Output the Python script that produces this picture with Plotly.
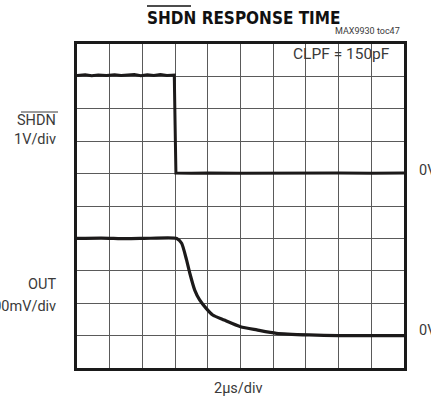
import plotly.graph_objects as go

# SHDN input step (time in µs, level in V)
shdn_t = [0.0, 0.5, 0.9, 1.3, 1.8, 2.3, 2.7, 3.1, 3.5, 3.9, 4.3, 4.7, 5.1, 5.5, 5.95, 6.0,
          6.05, 7.0, 8.0, 10.0, 12.0, 14.0, 16.0, 18.0, 20.0]
shdn_v = [3.03, 3.05, 3.02, 3.04, 3.03, 3.05, 3.03, 3.04, 3.06, 3.02, 3.05, 3.03, 3.06, 3.03, 3.04, 1.5,
          0.02, 0.01, 0.02, 0.01, 0.02, 0.01, 0.02, 0.01, 0.02]

# OUT response (time in µs, level in mV)
out_t = [0.0, 1.5, 3.0, 4.5, 6.1, 6.4, 6.7, 6.9, 7.2, 7.5, 7.9, 8.3, 9.0, 10.0, 11.0, 12.2,
         14.2, 16.0, 18.0, 20.0]
out_mv = [600, 602, 598, 601, 600, 570, 467, 385, 281, 220, 168, 127, 96, 55, 35, 14,
          4, 0, 0, 0]

# plot area in pixels
W, H = 431, 402
L, R, T, B = 77, 404, 44, 368


def px(x):
    return (x - L) / (R - L)


def py(y):
    return (B - y) / (B - T)


COND = "DejaVu Sans Condensed, Roboto, sans-serif"
LIGHT = "Roboto, sans-serif"
TRACE = "#1c1a1a"
GRID = "#5a5a5a"
TEXT = "#3a3a3a"

fig = go.Figure()
fig.add_trace(go.Scatter(x=shdn_t, y=shdn_v, mode="lines", yaxis="y",
                         line=dict(color=TRACE, width=3), hoverinfo="skip"))
fig.add_trace(go.Scatter(x=out_t, y=out_mv, mode="lines", yaxis="y2",
                         line=dict(color=TRACE, width=3.2, shape="spline", smoothing=0.6),
                         hoverinfo="skip"))

fig.update_layout(
    width=W, height=H,
    margin=dict(l=L, r=W - R, t=T, b=H - B),
    paper_bgcolor="white", plot_bgcolor="white",
    showlegend=False,
    xaxis=dict(range=[0, 20], dtick=2, showgrid=True, gridcolor=GRID, gridwidth=1,
               showticklabels=False, ticks="", zeroline=False,
               showline=True, linecolor="#1a1a1a", linewidth=3, mirror=True, fixedrange=True),
    yaxis=dict(range=[-6, 4], dtick=1, showgrid=True, gridcolor=GRID, gridwidth=1,
               showticklabels=False, ticks="", zeroline=False,
               showline=True, linecolor="#1a1a1a", linewidth=3, mirror=True, fixedrange=True),
    yaxis2=dict(range=[-200, 1800], overlaying="y", showgrid=False, showticklabels=False,
                ticks="", zeroline=False, showline=False, fixedrange=True),
)

ann = []


def label(text, x, y, size, anchor="center", color=TEXT, family=LIGHT):
    ann.append(dict(text=text, x=px(x), y=py(y), xref="paper", yref="paper",
                    xanchor=anchor, yanchor="middle", showarrow=False,
                    font=dict(family=family, size=size, color=color)))


label("<b>SHDN RESPONSE TIME</b>", 243, 18, 17, color="#111111", family=COND)
label("MAX9930 toc47", 402, 31, 9, anchor="right")
label("CLPF = 150pF", 392, 54, 15.5, anchor="right")
label("SHDN", 58, 121, 14.5, anchor="right")
label("1V/div", 58, 139, 14.5, anchor="right")
label("OUT", 58, 284, 14.5, anchor="right")
label("200mV/div", 58, 306, 14.5, anchor="right")
label("0V", 417, 170, 14.5, anchor="left")
label("0V", 417, 330, 14.5, anchor="left")
label("2µs/div", 238, 388, 14.5)

fig.update_layout(annotations=ann)

# overlines on the SHDN names
fig.add_shape(type="line", xref="paper", yref="paper",
              x0=px(147), x1=px(191), y0=py(6), y1=py(6),
              line=dict(color="#111111", width=1.5))
fig.add_shape(type="line", xref="paper", yref="paper",
              x0=px(21), x1=px(58), y0=py(112), y1=py(112),
              line=dict(color=TEXT, width=1))

fig.write_html("out.html")
